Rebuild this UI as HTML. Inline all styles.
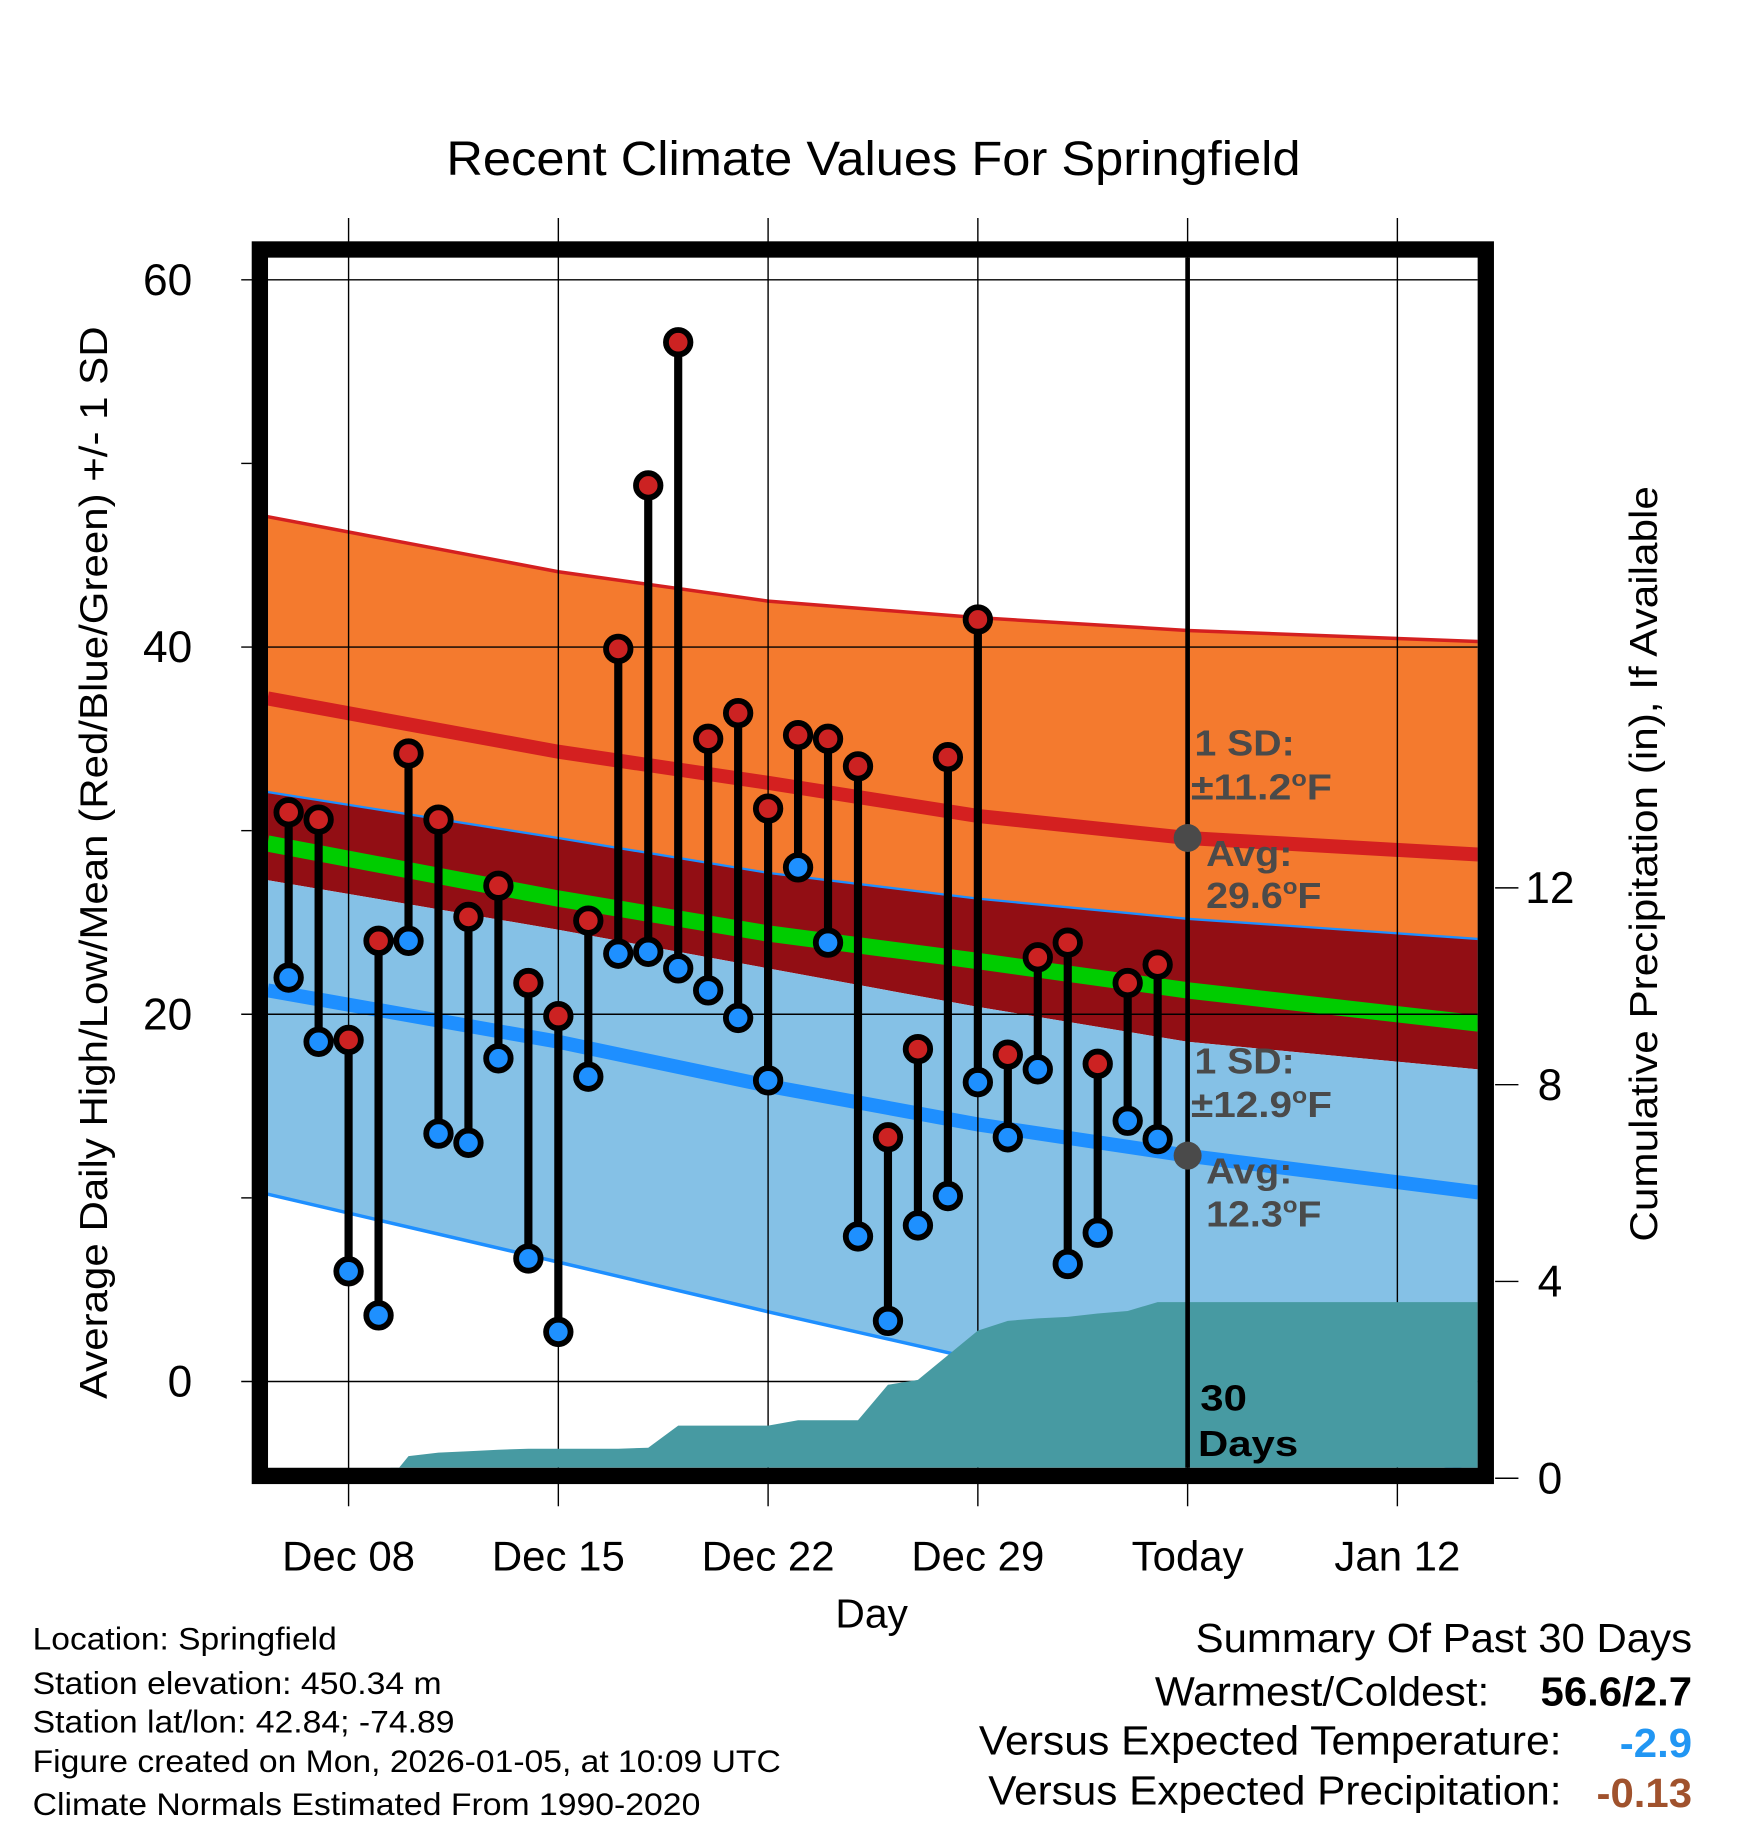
<!DOCTYPE html>
<html><head><meta charset="utf-8"><style>
html,body{margin:0;padding:0;background:#fff;}
svg{display:block;font-family:"Liberation Sans",Arial,sans-serif;}
</style></head><body>
<svg id="chart" width="1748" height="1828" viewBox="0 0 1500 1568" preserveAspectRatio="none" xmlns="http://www.w3.org/2000/svg">
<text x="383" y="150" font-size="41" textLength="733" lengthAdjust="spacingAndGlyphs">Recent Climate Values For Springfield</text>
<g id="bands"></g><g id="grid"></g><g id="precip"></g><g id="marks"></g><g id="annot"></g>
<rect x="223" y="214" width="1052" height="1052" fill="none" stroke="#000" stroke-width="14"/>
<g id="axes"></g>
<text transform="translate(92,1200) rotate(-90)" font-size="33" textLength="920" lengthAdjust="spacingAndGlyphs">Average Daily High/Low/Mean (Red/Blue/Green) +/- 1 SD</text>
<text transform="translate(1422,1065) rotate(-90)" font-size="33" textLength="648" lengthAdjust="spacingAndGlyphs">Cumulative Precipitation (in), If Available</text>
<text x="748" y="1396" font-size="35" text-anchor="middle">Day</text>
<g font-size="27">
<text x="28" y="1415" textLength="261" lengthAdjust="spacingAndGlyphs">Location: Springfield</text>
<text x="28" y="1453" textLength="351" lengthAdjust="spacingAndGlyphs">Station elevation: 450.34 m</text>
<text x="28" y="1486" textLength="362" lengthAdjust="spacingAndGlyphs">Station lat/lon: 42.84; -74.89</text>
<text x="28" y="1520" textLength="642" lengthAdjust="spacingAndGlyphs">Figure created on Mon, 2026-01-05, at 10:09 UTC</text>
<text x="28" y="1557" textLength="573" lengthAdjust="spacingAndGlyphs">Climate Normals Estimated From 1990-2020</text>
</g>
<g font-size="35">
<text x="1026" y="1417" textLength="426" lengthAdjust="spacingAndGlyphs">Summary Of Past 30 Days</text>
<text x="991" y="1463" textLength="287" lengthAdjust="spacingAndGlyphs">Warmest/Coldest:</text>
<text x="1322" y="1463" font-weight="bold" textLength="130" lengthAdjust="spacingAndGlyphs">56.6/2.7</text>
<text x="840" y="1505" textLength="500" lengthAdjust="spacingAndGlyphs">Versus Expected Temperature:</text>
<text x="1390" y="1507" font-weight="bold" fill="#2196f3" textLength="62" lengthAdjust="spacingAndGlyphs">-2.9</text>
<text x="848" y="1548" textLength="492" lengthAdjust="spacingAndGlyphs">Versus Expected Precipitation:</text>
<text x="1370" y="1550" font-weight="bold" fill="#a0522d" textLength="82" lengthAdjust="spacingAndGlyphs">-0.13</text>
</g>
</svg>
<script>
// day index: Dec 06 = 0
const highs=[31,30.6,18.6,24,34.2,30.6,25.3,27,21.7,19.9,25.1,39.9,48.8,56.6,35,36.4,31.2,35.2,35,33.5,13.3,18.1,34,41.5,17.8,23.1,23.9,17.3,21.7,22.7];
const lows=[22,18.5,6,3.6,24,13.5,13,17.6,6.7,2.7,16.6,23.3,23.4,22.5,21.3,19.8,16.4,28,23.9,7.9,3.3,8.5,10.1,16.3,13.3,17,6.4,8.1,14.2,13.2];
const precip=[0,0,0,0,0.45,0.52,0.55,0.58,0.6,0.6,0.6,0.6,0.62,1.07,1.07,1.07,1.07,1.18,1.18,1.18,1.9,2.0,2.5,3.0,3.2,3.25,3.28,3.35,3.4,3.58];
const normDays=[-0.7,9,16,23,30,39.7];
const sdHighTop=[47.1,44.1,42.5,41.6,40.9,40.3];
const meanHigh=[37.2,34.3,32.6,30.8,29.6,28.7];
const overlapTop=[32.1,29.6,27.7,26.3,25.2,24.1];
const meanAvg=[29.3,26.3,24.4,22.9,21.3,19.5];
const overlapBot=[27.3,24.6,22.5,20.4,18.5,17.0];
const meanLow=[21.3,18.5,16.1,14.0,12.3,10.3];
const sdLowBot=[10.2,6.5,3.8,1.2,-1.5,-5.0];
const yTicks=[0,20,40,60];
const yMinor=[10,30,50];
const y2Ticks=[0,4,8,12];
const xTickDays=[2,9,16,23,30,37];
const xTickLabels=["Dec 08","Dec 15","Dec 22","Dec 29","Today","Jan 12"];

const NS="http://www.w3.org/2000/svg";
const X0=230,X1=1268,Y0=221,Y1=1259;
const xs=d=>247.7+d*25.714;
const ys=v=>1185-v*15.75;
const y2=v=>1268-v*42.2;
function mk(tag,attrs,parent){const e=document.createElementNS(NS,tag);for(const k in attrs)e.setAttribute(k,attrs[k]);parent.appendChild(e);return e;}
const bands=document.getElementById('bands'),grid=document.getElementById('grid'),pr=document.getElementById('precip'),marks=document.getElementById('marks'),axes=document.getElementById('axes'),ann=document.getElementById('annot');
const clip=mk('clipPath',{id:'pc'},mk('defs',{},document.getElementById('chart')));
mk('rect',{x:X0,y:Y0,width:X1-X0,height:Y1-Y0},clip);
bands.setAttribute('clip-path','url(#pc)');pr.setAttribute('clip-path','url(#pc)');
const line=arr=>normDays.map((d,i)=>xs(d).toFixed(1)+','+ys(arr[i]).toFixed(1)).join(' ');
const rev=arr=>normDays.map((d,i)=>xs(d).toFixed(1)+','+ys(arr[i]).toFixed(1)).reverse().join(' ');
function band(top,bot,fill,name){const p=mk('polygon',{points:line(top)+' '+rev(bot),fill:fill},bands);

}
band(sdHighTop,overlapTop,'#f47a2e','high-sd-band');
band(overlapTop,overlapBot,'#920e14','overlap-band');
band(overlapBot,sdLowBot,'#85c1e6','low-sd-band');
function pl(arr,col,w,name){const p=mk('polyline',{points:line(arr),fill:'none',stroke:col,'stroke-width':w},bands);

}
pl(sdHighTop,'#d42020',3,'high-sd-upper-line');
pl(overlapTop,'#1e8fff',2,'high-sd-lower-line');
pl(sdLowBot,'#1e8fff',3,'low-sd-lower-line');
pl(meanHigh,'#d42020',12,'mean-high-line');
pl(meanAvg,'#00cc00',14,'mean-avg-line');
pl(meanLow,'#1e8fff',12,'mean-low-line');
yTicks.forEach(v=>{mk('line',{x1:207,x2:X1,y1:ys(v),y2:ys(v),stroke:'#000','stroke-width':1.2},grid);
const t=mk('text',{x:165,y:ys(v)+13,'font-size':38,'text-anchor':'end'},axes);t.textContent=v;

});
yMinor.forEach(v=>mk('line',{x1:207,x2:216,y1:ys(v),y2:ys(v),stroke:'#000','stroke-width':1.2},axes));
xTickDays.forEach((d,i)=>{mk('line',{x1:xs(d),x2:xs(d),y1:187,y2:1292,stroke:'#000','stroke-width':1.2},grid);
const t=mk('text',{x:xs(d),y:1347,'font-size':36,'text-anchor':'middle'},axes);t.textContent=xTickLabels[i];

});
y2Ticks.forEach(v=>{mk('line',{x1:1283,x2:1303,y1:y2(v),y2:y2(v),stroke:'#000','stroke-width':1.2},axes);
const t=mk('text',{x:1330,y:y2(v)+13,'font-size':38,'text-anchor':'middle'},axes);t.textContent=v;

});
let pts=[];let started=false;
precip.forEach((v,i)=>{if(v>0&&!started){started=true;pts.push(xs(i-0.6)+','+y2(0));}if(started)pts.push(xs(i)+','+y2(v));});
pts.push(X1+','+y2(precip[precip.length-1]));pts.push(X1+','+Y1);pts.push(xs(3.4)+','+Y1);
const pp=mk('polygon',{points:pts.join(' '),fill:'#479aa2'},pr);


mk('line',{x1:xs(30),x2:xs(30),y1:Y0,y2:Y1,stroke:'#000','stroke-width':4},ann);
highs.forEach((h,i)=>{const l=lows[i];
const s=mk('line',{x1:xs(i),x2:xs(i),y1:ys(h),y2:ys(l),stroke:'#000','stroke-width':7},marks);


const c1=mk('circle',{cx:xs(i),cy:ys(h),r:10.5,fill:'#cc2222',stroke:'#000','stroke-width':5},marks);


const c2=mk('circle',{cx:xs(i),cy:ys(l),r:10.5,fill:'#1e90ff',stroke:'#000','stroke-width':5},marks);

});
mk('circle',{cx:xs(30),cy:ys(meanHigh[4]),r:12,fill:'#4a4a4a'},ann);
mk('circle',{cx:xs(30),cy:ys(meanLow[4]),r:12,fill:'#4a4a4a'},ann);
function txt(x,y,s,fill,name,len){const t=mk('text',{x:x,y:y,'font-size':31,'font-weight':'bold',fill:fill},ann);t.innerHTML=s;
if(len){t.setAttribute('textLength',len);t.setAttribute('lengthAdjust','spacingAndGlyphs');}

}
const G='#4a4a4a';
txt(1025,648,'1 SD:',G,'high-sd-label',86);
txt(1022,686,'±11.2<tspan font-size="19" dy="-12">o</tspan><tspan dy="12">F</tspan>',G,'high-sd-value',121);
txt(1035,743,'Avg:',G,'high-avg-label',74);
txt(1035,779,'29.6<tspan font-size="19" dy="-12">o</tspan><tspan dy="12">F</tspan>',G,'high-avg-value',99);
txt(1025,921,'1 SD:',G,'low-sd-label',86);
txt(1022,958,'±12.9<tspan font-size="19" dy="-12">o</tspan><tspan dy="12">F</tspan>',G,'low-sd-value',121);
txt(1035,1015,'Avg:',G,'low-avg-label',74);
txt(1035,1052,'12.3<tspan font-size="19" dy="-12">o</tspan><tspan dy="12">F</tspan>',G,'low-avg-value',99);
txt(1030,1210,'30','#000','days-count-label',40);
txt(1028,1249,'Days','#000','days-label',86);
</script>
</body></html>
